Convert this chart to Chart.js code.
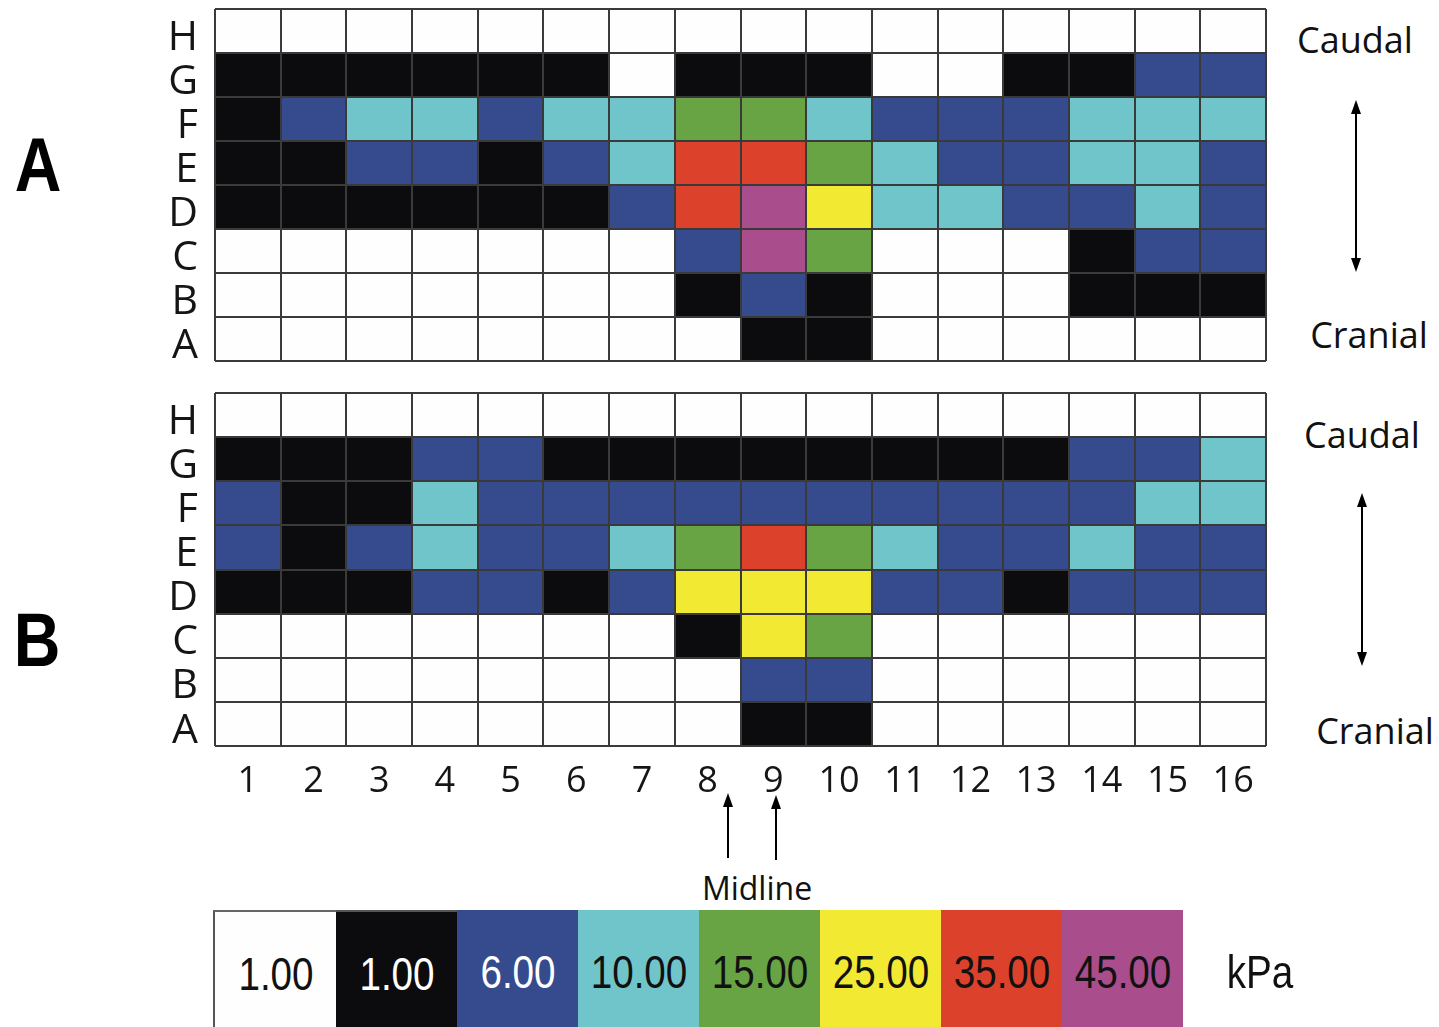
<!DOCTYPE html>
<html>
<head>
<meta charset="utf-8">
<script src="https://cdn.jsdelivr.net/npm/chart.js@4.4.1/dist/chart.umd.min.js"></script>
<style>
  html, body { margin:0; padding:0; background:#ffffff; }
  body { width:1439px; height:1027px; position:relative; overflow:hidden; font-family:"Open Sans", sans-serif; color:#111; }
  canvas { position:absolute; }
  .t { position:absolute; white-space:nowrap; transform:translate(-50%,-50%); line-height:1; }
  .panel { font-family:"Liberation Sans", Arial, sans-serif; font-weight:bold; font-size:76px; transform:translate(-50%,-50%) scaleX(0.85); color:#000; }
  .side { font-family:"Open Sans", sans-serif; font-size:36px; color:#111; }
  .mid { font-family:"Open Sans", sans-serif; font-size:32px; color:#111; }
  #legend { position:absolute; left:213px; top:910px; width:970px; height:117px; display:flex; }
  #legend .seg { position:relative; flex:1 1 0; height:100%; box-sizing:border-box; }
  #legend .lab { position:absolute; left:50%; top:62px; font-family:"Liberation Sans", Arial, sans-serif; font-size:46px; line-height:1; white-space:nowrap; transform:translate(-50%,-50%) scaleX(0.84); }
  .kpa { font-family:"Liberation Sans", Arial, sans-serif; font-size:46px; transform:translate(-50%,-50%) scaleX(0.84); color:#111; }
  svg { position:absolute; left:0; top:0; }
</style>
</head>
<body>
<canvas id="chartA" width="1120" height="370" style="left:150px;top:0px"></canvas>
<canvas id="chartB" width="1120" height="430" style="left:150px;top:384px"></canvas>

<div class="t panel" style="left:38px;top:165px">A</div>
<div class="t panel" style="left:37px;top:640px">B</div>

<div class="t side" style="left:1355px;top:40px">Caudal</div>
<div class="t side" style="left:1369px;top:335px">Cranial</div>
<div class="t side" style="left:1362px;top:435px">Caudal</div>
<div class="t side" style="left:1375px;top:731px">Cranial</div>

<div class="t mid" style="left:757px;top:888px">Midline</div>

<svg width="1439" height="1027">
  <g stroke="#000" stroke-width="2" fill="#000">
    <line x1="1356" y1="110" x2="1356" y2="262"/>
    <polygon points="1356,100 1351,114 1361,114" stroke="none"/>
    <polygon points="1356,272 1351,258 1361,258" stroke="none"/>
    <line x1="1362" y1="503" x2="1362" y2="656"/>
    <polygon points="1362,493 1357,507 1367,507" stroke="none"/>
    <polygon points="1362,666 1357,652 1367,652" stroke="none"/>
    <line x1="728" y1="803" x2="728" y2="858"/>
    <polygon points="728,793 723,807 733,807" stroke="none"/>
    <line x1="776" y1="805" x2="776" y2="860"/>
    <polygon points="776,795 771,809 781,809" stroke="none"/>
  </g>
</svg>

<div id="legend"></div>
<div class="t kpa" style="left:1260px;top:972px">kPa</div>

<script>
// ---- categories / tick labels ----
const columns = ['1','2','3','4','5','6','7','8','9','10','11','12','13','14','15','16'];
const rowNames = ['H','G','F','E','D','C','B','A'];           // top to bottom
const legendLabels = ['1.00','1.00','6.00','10.00','15.00','25.00','35.00','45.00'];
const legendUnit = 'kPa';
// level index: 0=white(1.00) 1=black(1.00) 2=6.00 3=10.00 4=15.00 5=25.00 6=35.00 7=45.00
const levelColors = ['#fefefe','#0c0c0e','#364b8e','#70c5cb','#68a443','#f2e933','#dc412b','#aa4d8c'];
const levelTextColors = ['#111','#fff','#fff','#111','#111','#111','#111','#111'];

// ---- panel A (levels per row, columns 1..16) ----
const aH = [0,0,0,0,0,0,0,0,0,0,0,0,0,0,0,0];
const aG = [1,1,1,1,1,1,0,1,1,1,0,0,1,1,2,2];
const aF = [1,2,3,3,2,3,3,4,4,3,2,2,2,3,3,3];
const aE = [1,1,2,2,1,2,3,6,6,4,3,2,2,3,3,2];
const aD = [1,1,1,1,1,1,2,6,7,5,3,3,2,2,3,2];
const aC = [0,0,0,0,0,0,0,2,7,4,0,0,0,1,2,2];
const aB = [0,0,0,0,0,0,0,1,2,1,0,0,0,1,1,1];
const aA = [0,0,0,0,0,0,0,0,1,1,0,0,0,0,0,0];

// ---- panel B ----
const bH = [0,0,0,0,0,0,0,0,0,0,0,0,0,0,0,0];
const bG = [1,1,1,2,2,1,1,1,1,1,1,1,1,2,2,3];
const bF = [2,1,1,3,2,2,2,2,2,2,2,2,2,2,3,3];
const bE = [2,1,2,3,2,2,3,4,6,4,3,2,2,3,2,2];
const bD = [1,1,1,2,2,1,2,5,5,5,2,2,1,2,2,2];
const bC = [0,0,0,0,0,0,0,1,5,4,0,0,0,0,0,0];
const bB = [0,0,0,0,0,0,0,0,2,2,0,0,0,0,0,0];
const bA = [0,0,0,0,0,0,0,0,1,1,0,0,0,0,0,0];

const panelA = [aH, aG, aF, aE, aD, aC, aB, aA];
const panelB = [bH, bG, bF, bE, bD, bC, bB, bA];

const gridColor = '#3a3a3a';
const tickFont = '"Open Sans", sans-serif';

function noPad(s) { s.paddingTop = 0; s.paddingBottom = 0; s.paddingLeft = 0; s.paddingRight = 0; }

function heatmap(id, rowsTopDown, showX, pad, xHeight) {
  const bottomUp = rowsTopDown.slice().reverse();
  const namesBottomUp = rowNames.slice().reverse();
  const datasets = bottomUp.map((levels, i) => ({
    label: namesBottomUp[i],
    data: levels.map(() => 1),
    backgroundColor: levels.map(l => levelColors[l]),
    borderWidth: 0,
    barPercentage: 1,
    categoryPercentage: 1,
    stack: 'cells',
    xAxisID: 'x',
    yAxisID: 'y'
  }));
  return new Chart(document.getElementById(id), {
    type: 'bar',
    data: { labels: columns, datasets },
    options: {
      responsive: false,
      animation: false,
      devicePixelRatio: 1,
      layout: { padding: pad },
      plugins: { legend: { display: false }, tooltip: { enabled: false } },
      scales: {
        x: {
          type: 'category', stacked: true, offset: true,
          grid: { offset: true, color: gridColor, lineWidth: 2, drawTicks: false, z: 1 },
          border: { display: false },
          ticks: { display: showX, font: { family: tickFont, size: 36 }, color: '#151515', padding: 14, maxRotation: 0, autoSkip: false },
          afterFit: s => { s.height = xHeight; noPad(s); }
        },
        yl: {
          type: 'category', labels: rowNames, position: 'left', offset: true, weight: 1,
          grid: { display: false, drawTicks: false },
          border: { display: false },
          ticks: { font: { family: tickFont, size: 41 }, color: '#151515', padding: 17, labelOffset: 7, autoSkip: false },
          afterFit: s => { s.width = 65; noPad(s); }
        },
        y: {
          type: 'linear', stacked: true, min: 0, max: 8, position: 'left', weight: 0,
          ticks: { display: false, stepSize: 1 },
          grid: { color: gridColor, lineWidth: 2, drawTicks: false, z: 1 },
          border: { display: false },
          afterFit: s => { s.width = 0; noPad(s); }
        }
      }
    }
  });
}

heatmap('chartA', panelA, false, { top: 9, right: 4, bottom: 9, left: 0 }, 0);
heatmap('chartB', panelB, true, { top: 9, right: 4, bottom: 0, left: 0 }, 68);

// ---- colour key ----
const legend = document.getElementById('legend');
legendLabels.forEach((txt, i) => {
  const seg = document.createElement('div');
  seg.className = 'seg';
  seg.style.background = levelColors[i];
  if (i === 0) { seg.style.borderLeft = '2px solid #555'; seg.style.borderTop = '2px solid #666'; }
  if (i === 1) { seg.style.borderTop = '2px solid #555'; }
  const lab = document.createElement('div');
  lab.className = 'lab';
  lab.style.color = levelTextColors[i];
  lab.textContent = txt;
  seg.appendChild(lab);
  legend.appendChild(seg);
});
document.querySelector('.kpa').textContent = legendUnit;
</script>
</body>
</html>
